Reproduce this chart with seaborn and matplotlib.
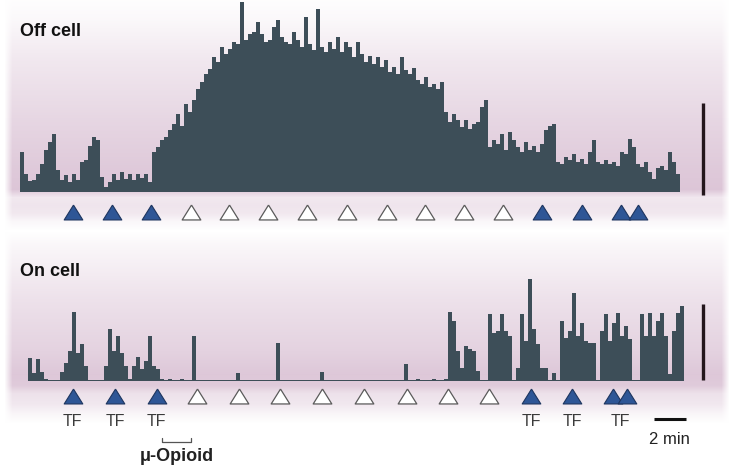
import numpy as np
import pandas as pd
import matplotlib
matplotlib.use("Agg")
import matplotlib.pyplot as plt
import seaborn as sns

sns.set_theme(style="white")
plt.rcParams['font.family'] = ['Liberation Sans', 'DejaVu Sans']

# ---------------- data ----------------
BIN_MIN = 0.25  # bin width (min)

# Off cell: firing rate per bin (arbitrary units), from t = 0
off_rate = [40, 18, 11, 12, 18, 28, 42, 50, 58, 22,
            12, 17, 10, 18, 12, 30, 32, 46, 55, 52,
            15, 5, 10, 18, 12, 20, 13, 18, 12, 18,
            14, 18, 10, 40, 45, 52, 55, 62, 68, 78,
            66, 88, 80, 92, 103, 110, 118, 123, 135, 130,
            145, 138, 143, 150, 148, 190, 152, 158, 160, 170,
            158, 150, 152, 165, 172, 155, 150, 148, 160, 152,
            145, 175, 148, 142, 183, 145, 140, 150, 143, 155,
            140, 150, 145, 135, 150, 138, 130, 136, 128, 135,
            125, 132, 120, 125, 118, 135, 122, 118, 124, 112,
            108, 115, 105, 108, 103, 110, 80, 70, 78, 72,
            65, 72, 63, 68, 70, 85, 92, 45, 52, 48,
            58, 42, 60, 52, 45, 40, 50, 42, 46, 40,
            48, 62, 66, 68, 30, 28, 35, 32, 38, 30,
            33, 28, 40, 52, 30, 28, 32, 28, 30, 26,
            40, 38, 53, 45, 28, 25, 30, 20, 13, 24,
            26, 22, 40, 30, 18]

# On cell: firing rate per bin (arbitrary units), from t = 0
on_rate = [23, 8, 22, 9, 2, 1, 1, 1, 9, 18,
           30, 69, 28, 37, 15, 1, 1, 1, 1, 15,
           52, 30, 45, 28, 15, 2, 15, 24, 12, 20,
           45, 15, 12, 2, 1, 2, 1, 1, 2, 1,
           1, 45, 1, 1, 1, 1, 1, 1, 1, 1,
           1, 1, 8, 1, 1, 1, 1, 1, 1, 1,
           1, 1, 38, 1, 1, 1, 1, 1, 1, 1,
           1, 1, 1, 9, 1, 1, 1, 1, 1, 1,
           1, 1, 1, 1, 1, 1, 1, 1, 1, 1,
           1, 1, 1, 1, 17, 1, 1, 2, 1, 1,
           1, 2, 1, 1, 2, 69, 60, 30, 13, 35,
           32, 30, 10, 1, 1, 67, 48, 50, 67, 50,
           45, 1, 13, 67, 40, 102, 52, 37, 13, 13,
           1, 8, 1, 60, 43, 50, 88, 45, 58, 40,
           38, 38, 1, 50, 67, 40, 58, 68, 45, 55,
           42, 1, 1, 67, 45, 68, 45, 60, 68, 45,
           7, 50, 68, 75]

# Stimulus times (min); filled = tail flick (TF) test, open = during mu-opioid
off_stim_t = [3.3, 5.75, 8.2, 10.7, 13.05, 15.5, 17.95, 20.45, 22.95, 25.3,
              27.75, 30.2, 32.6, 35.1, 37.55, 38.6]
off_stim_filled = [1, 1, 1, 0, 0, 0, 0, 0, 0, 0, 0, 0, 1, 1, 1, 1]

on_stim_t = [2.8, 5.45, 8.05, 10.55, 13.2, 15.75, 18.4, 21.0, 23.7, 26.25,
             28.8, 31.45, 34.0, 36.55, 37.45]
on_stim_filled = [1, 1, 1, 0, 0, 0, 0, 0, 0, 0, 0, 1, 1, 1, 1]

tf_label_t = [2.8, 5.45, 8.05, 31.45, 34.0, 37.0]
tf_labels = ["TF", "TF", "TF", "TF", "TF", "TF"]

opioid_start, opioid_end = 8.4, 10.2

# ---------------- figure ----------------
W, H = 749, 477
fig = plt.figure(figsize=(W / 100, H / 100), dpi=100)

# background gradient bands (pixel space)
bg = fig.add_axes([0, 0, 1, 1])
bg.axis('off')

pink = np.array([216, 190, 210]) / 255.0
white = np.array([1.0, 1.0, 1.0])


def band(y0, y1, prof_y, prof_v):
    ys = np.arange(y0, y1)
    v = np.interp(ys, prof_y, prof_v)
    xs = np.arange(0, W)
    h = np.clip((xs - 4) / 8.0, 0, 1) * np.clip((729 - xs) / 8.0, 0, 1)
    f = v[:, None] * h[None, :]
    img = white[None, None, :] * (1 - f[..., None]) + pink[None, None, :] * f[..., None]
    bg.imshow(img, extent=(0, W, y1, y0), aspect='auto', interpolation='bilinear', zorder=0)


band(0, 232, [0, 20, 60, 120, 170, 190, 198, 206, 214, 222, 231],
     [0.02, 0.1, 0.35, 0.62, 0.82, 0.88, 0.35, 0.4, 0.35, 0.12, 0.0])
band(232, 425, [232, 245, 300, 350, 375, 386, 394, 405, 414, 424],
     [0.0, 0.12, 0.45, 0.68, 0.85, 0.8, 0.45, 0.35, 0.15, 0.0])
bg.set_xlim(0, W)
bg.set_ylim(H, 0)

PX_PER_MIN = 16.0
hist_color = "#3d4e58"
blue = "#2e5696"
tri = [(0, 0.8), (-1, -0.8), (1, -0.8), (0, 0.8)]


def draw_panel(ax, rate, stim_t, stim_filled, y_tri):
    n = len(rate)
    df = pd.DataFrame({"t": (np.arange(n) + 0.5) * BIN_MIN,
                       "rate": np.asarray(rate, dtype=float)})
    sns.histplot(data=df, x="t", weights="rate", bins=n, binrange=(0, n * BIN_MIN),
                 element="step", fill=True, color=hist_color, alpha=1, linewidth=0, ax=ax)
    ds = pd.DataFrame({"t": stim_t, "filled": stim_filled})
    ds["y"] = y_tri
    sns.scatterplot(data=ds[ds.filled == 1], x="t", y="y", marker=tri, s=180,
                    color=blue, edgecolor="#1d355f", linewidth=0.8, ax=ax, zorder=5,
                    clip_on=False)
    sns.scatterplot(data=ds[ds.filled == 0], x="t", y="y", marker=tri, s=180,
                    color="white", edgecolor="#5a5a5a", linewidth=0.9, ax=ax, zorder=5,
                    clip_on=False)


# ---- Off cell panel ----
ax1 = fig.add_axes([0, 1 - 235 / H, 1, 235 / H])
ax1.patch.set_alpha(0)
draw_panel(ax1, off_rate, off_stim_t, off_stim_filled, -20)
ax1.set_xlim(-20 / PX_PER_MIN, (W - 20) / PX_PER_MIN)
ax1.set_ylim(-42, 193)
ax1.vlines((703 - 20) / PX_PER_MIN, -3, 89, color="#24161c", lw=2.4)
ax1.text(0, 162, "Off cell", fontsize=13, fontweight="bold", color="#111111",
         ha="left", va="center")
ax1.axis('off')

# ---- On cell panel ----
ax2 = fig.add_axes([0, 0, 1, 242 / H])
ax2.patch.set_alpha(0)
draw_panel(ax2, on_rate, on_stim_t, on_stim_filled, -15)
ax2.set_xlim(-28 / PX_PER_MIN, (W - 28) / PX_PER_MIN)
ax2.set_ylim(-95, 147)
for t, lab in zip(tf_label_t, tf_labels):
    ax2.text(t, -40, lab, fontsize=11.5, color="#3a3a3a", ha="center", va="center")

# mu-opioid bracket
ax2.plot([opioid_start, opioid_start, opioid_end, opioid_end], [-57, -61, -61, -57],
         color="#555555", lw=0.9)
ax2.text((opioid_start + opioid_end) / 2, -75, "\u03bc-Opioid", fontsize=13,
         fontweight="bold", color="#222222", ha="center", va="center")

# scale bars
ax2.vlines((703 - 28) / PX_PER_MIN, 1, 77, color="#24161c", lw=2.4)
ax2.hlines(-38, 39.1, 41.1, color="#111111", lw=2.2)
ax2.text(40.1, -58, "2 min", fontsize=12, color="#222222", ha="center", va="center")
ax2.text(-0.5, 110, "On cell", fontsize=13, fontweight="bold", color="#111111",
         ha="left", va="center")
ax2.axis('off')

fig.savefig("out.png", dpi=100)
